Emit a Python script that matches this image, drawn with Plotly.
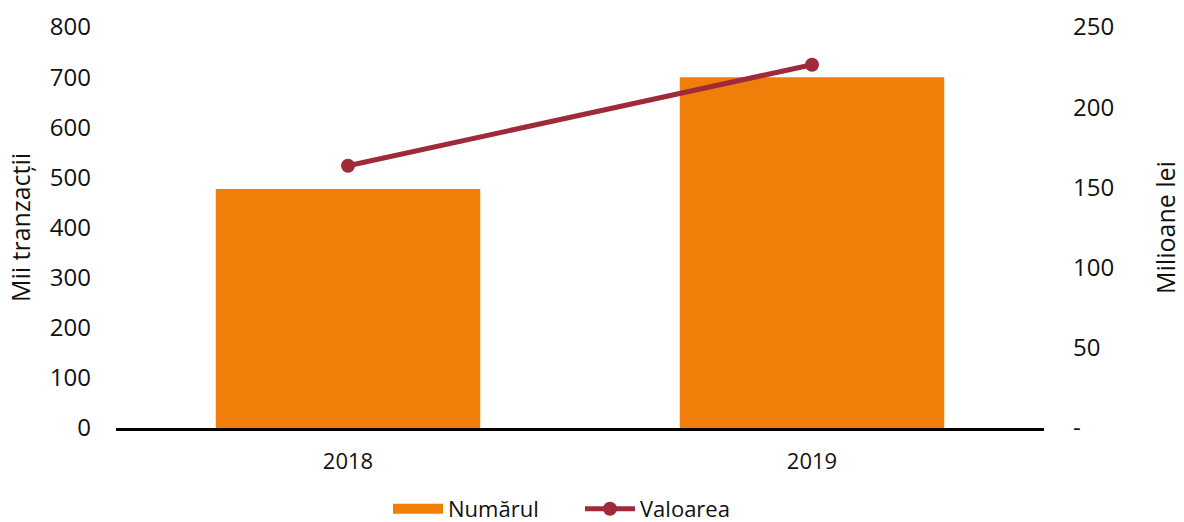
import plotly.graph_objects as go

years = ["2018", "2019"]
numarul = [477, 700]        # mii tranzacții
valoarea = [163.5, 226.5]   # milioane lei

left_ticks = [0, 100, 200, 300, 400, 500, 600, 700, 800]
right_ticks = [0, 50, 100, 150, 200, 250]
right_labels = ["-", "50", "100", "150", "200", "250"]

orange = "#F07F0A"
wine = "#9E2A3A"
font_family = "Open Sans, Lato, sans-serif"

fig = go.Figure()
fig.add_trace(go.Bar(
    x=years, y=numarul, name="Numărul", showlegend=False,
    marker=dict(color=orange, line=dict(width=0)),
))
# legend swatch for the bars: a wide orange block
fig.add_trace(go.Scatter(
    x=[None], y=[None], name="Numărul", mode="lines",
    line=dict(color=orange, width=14),
))
fig.add_trace(go.Scatter(
    x=years, y=valoarea, name="Valoarea", yaxis="y2",
    mode="lines+markers",
    line=dict(color=wine, width=5),
    marker=dict(color=wine, size=14),
))

fig.update_layout(
    width=1184, height=522,
    margin=dict(l=116, r=140, t=27, b=94, autoexpand=False),
    paper_bgcolor="white", plot_bgcolor="white",
    font=dict(family=font_family, size=24, color="#111111"),
    bargap=0.43,
    showlegend=True,
    legend=dict(orientation="h", x=0.5, xanchor="center",
                yref="container", y=0.025, yanchor="middle",
                font=dict(size=22), traceorder="normal", itemwidth=50,
                entrywidth=127, entrywidthmode="pixels",
                tracegroupgap=0),
    xaxis=dict(
        showline=True, linecolor="black", linewidth=3,
        ticks="", showgrid=False, ticklabelstandoff=12,
        tickfont=dict(size=22),
    ),
    yaxis=dict(
        range=[0, 800], tickvals=left_ticks, showgrid=False, zeroline=False,
        showline=False, ticks="", ticklabelstandoff=24,
        tickfont=dict(size=24),
        title=dict(text="Mii tranzacții", standoff=12, font=dict(size=25)),
    ),
    yaxis2=dict(
        overlaying="y", side="right", range=[0, 250],
        tickvals=right_ticks, ticktext=right_labels, showgrid=False,
        zeroline=False, showline=False, ticks="", ticklabelstandoff=28,
        tickfont=dict(size=24),
        title=dict(text="Milioane lei", standoff=44, font=dict(size=25)),
    ),
)

fig.write_html("out.html")
